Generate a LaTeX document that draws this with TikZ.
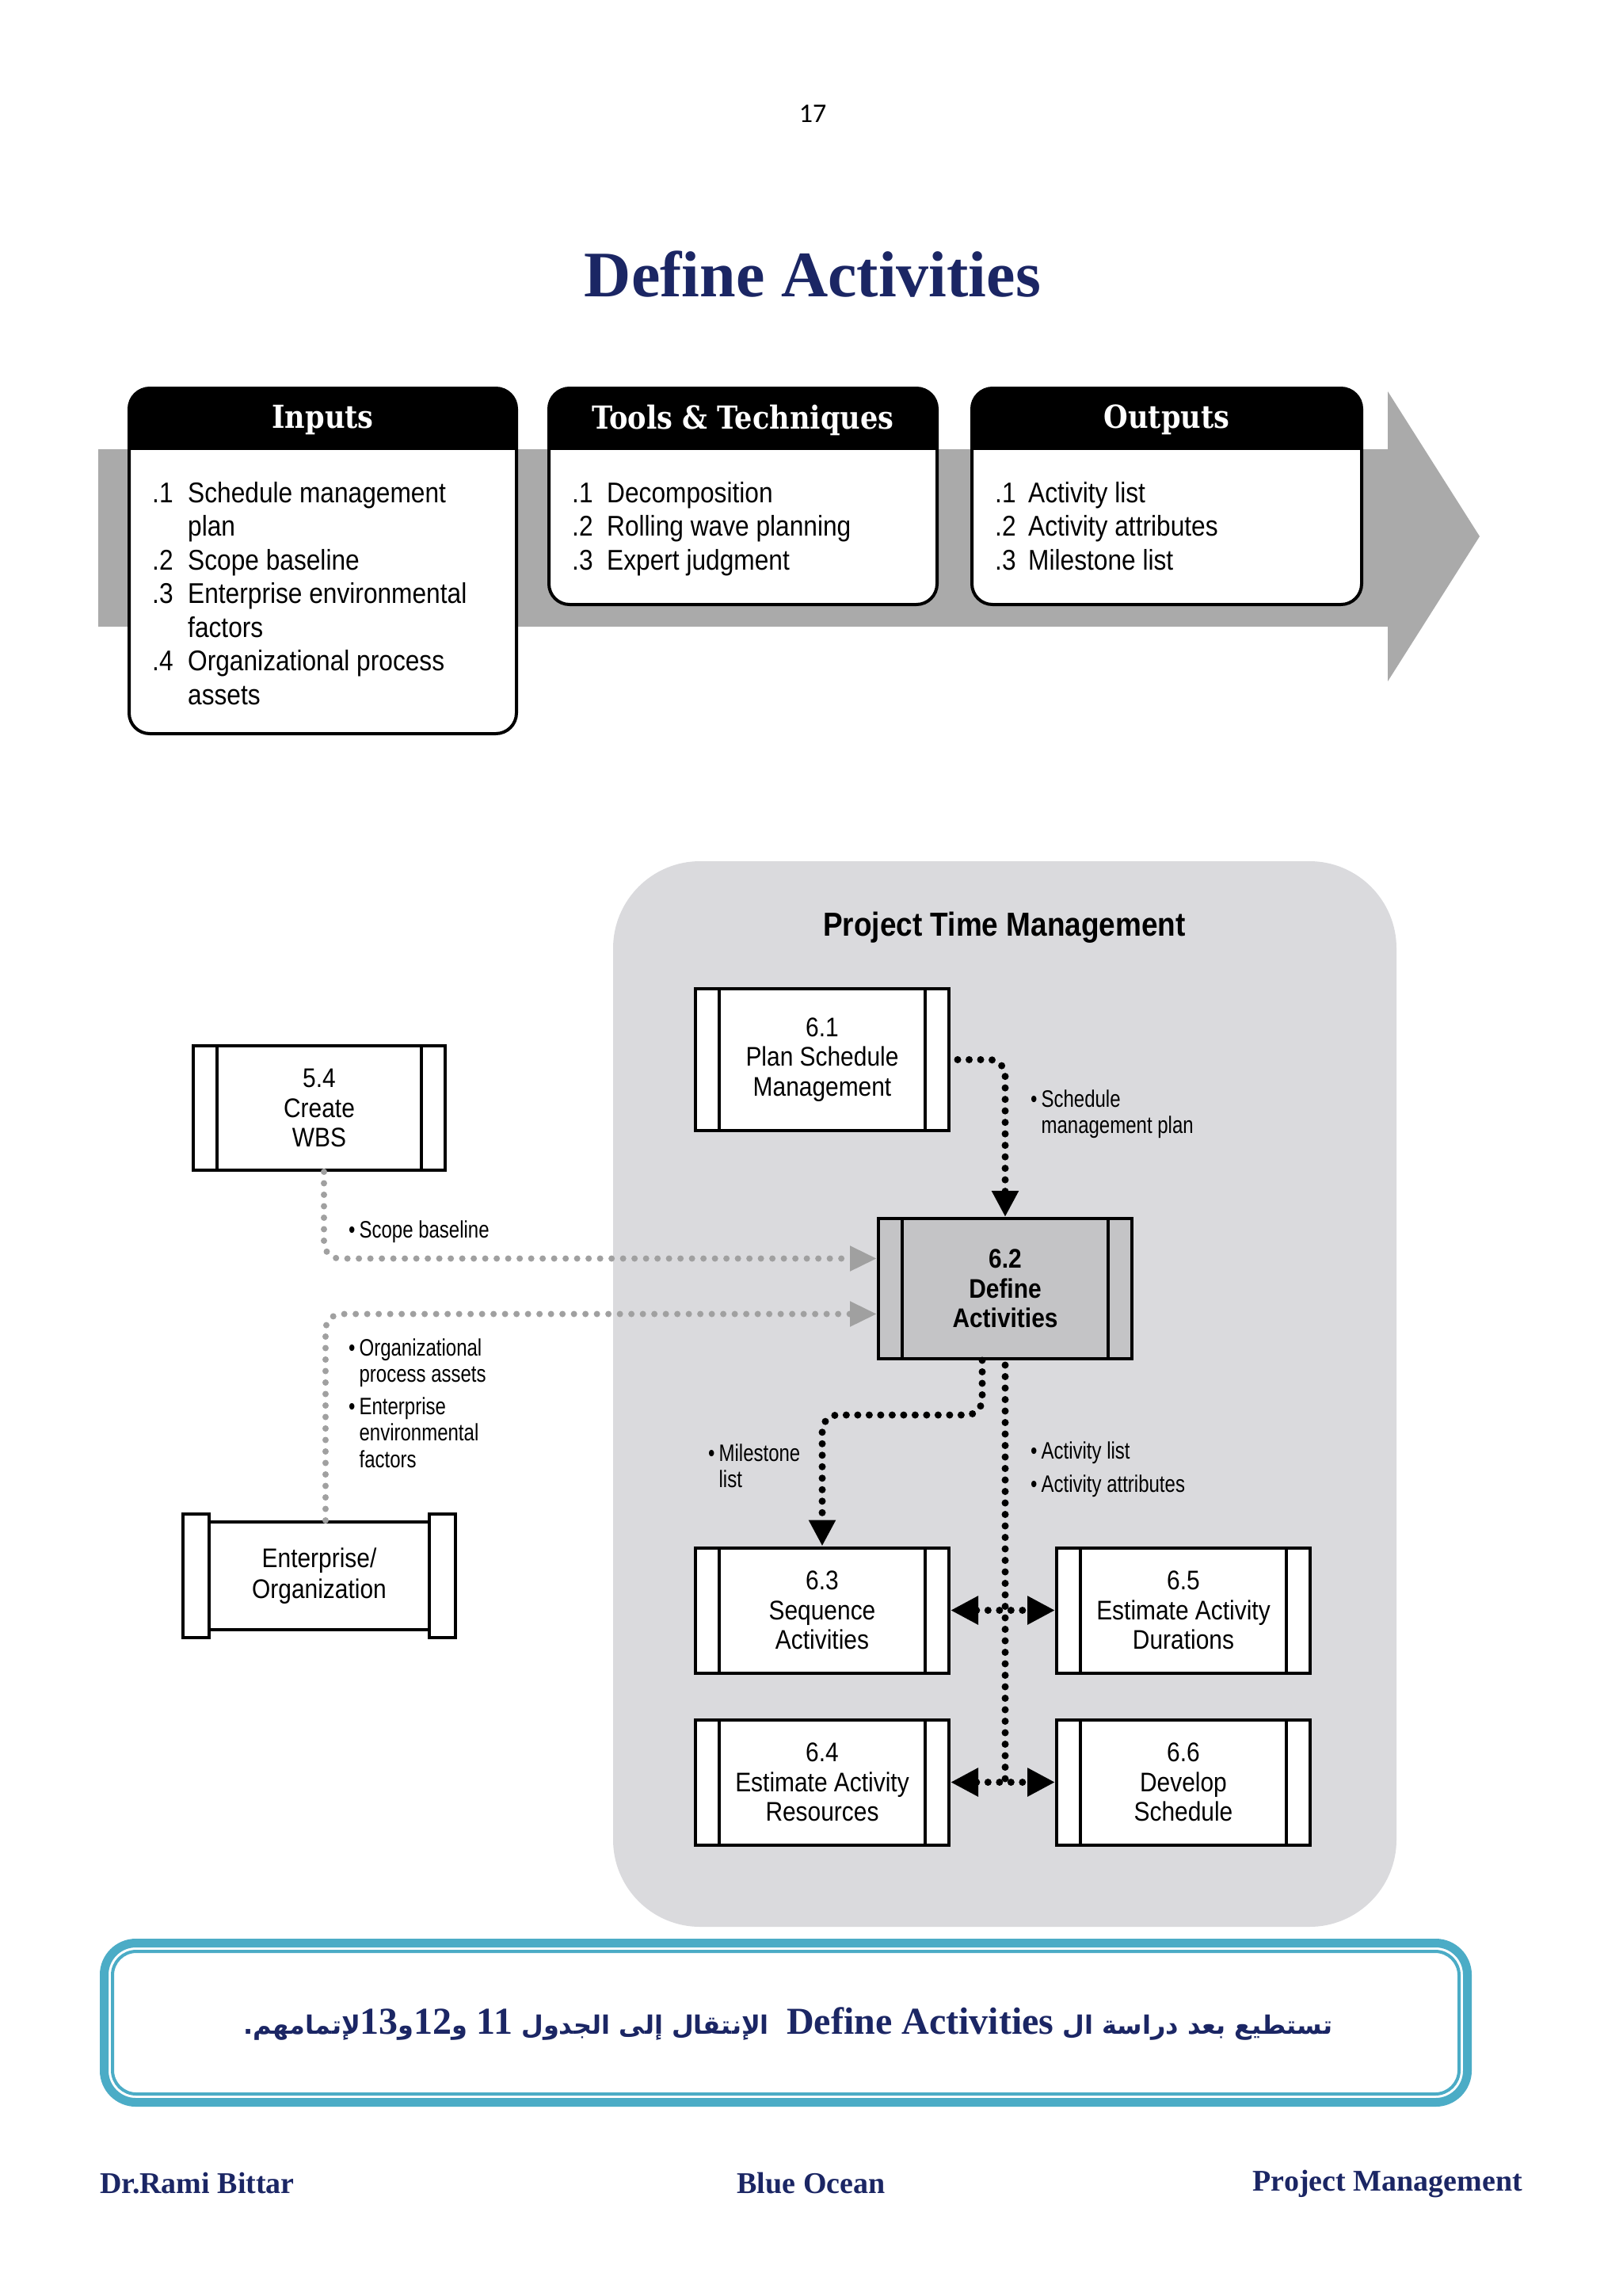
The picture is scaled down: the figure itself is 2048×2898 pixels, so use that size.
\documentclass[tikz,border=0pt]{standalone}
\usepackage{fontspec}
\setmainfont{Liberation Serif}
\newfontfamily\condfont[FakeStretch=0.88]{Liberation Sans}
\newfontfamily\lblfont[FakeStretch=0.8]{Liberation Sans}
\newfontfamily\slabfont[FakeStretch=0.88]{DejaVu Serif}
\newfontfamily\arabicfont[Script=Arabic]{DejaVu Sans}
\newfontfamily\pnfont{Carlito}
\TeXXeTstate=1
\usetikzlibrary{arrows.meta,calc}
\definecolor{navy}{RGB}{27,38,100}
\definecolor{teal5}{RGB}{75,172,198}
\definecolor{band}{RGB}{170,170,170}
\definecolor{ptm}{RGB}{218,218,221}
\definecolor{dgray}{RGB}{160,160,160}
\definecolor{procgray}{RGB}{196,196,198}
\newcommand\blab[1]{\textbullet\hspace{5pt}\begin{tabular}[t]{@{}l@{}}#1\end{tabular}}
\newcommand\iobox[6]{%
  \fill[white,rounded corners=26] (#1,490) rectangle (#2,#3);
  \begin{scope}
    \clip (#1-5,480) rectangle (#2+5,567);
    \fill[black,rounded corners=26] (#1,490) rectangle (#2,#3);
  \end{scope}
  \draw[line width=4,rounded corners=26] (#1,490) rectangle (#2,#3);
  \node[hdr] (#4) at ({(#1+#2)/2},530) {#5};
  \node[iotext] (#4b) at (#1+29,634) {#6};
}
\begin{document}
\begin{tikzpicture}[x=1pt,y=-1pt,
  hdr/.style={text=white,font=\slabfont\bfseries\fontsize{40}{44}\selectfont,inner sep=0},
  iotext/.style={anchor=base west,inner sep=0,font=\condfont\fontsize{36}{42.5}\selectfont},
  proc/.style={draw,line width=4,fill=white,minimum width=320,minimum height=158,inner sep=0,align=center,
    font=\condfont\fontsize{34}{37.5}\selectfont,
    path picture={\draw[line width=3.5] ([xshift=30pt]path picture bounding box.north west) -- ([xshift=30pt]path picture bounding box.south west);
                  \draw[line width=3.5] ([xshift=-30pt]path picture bounding box.north east) -- ([xshift=-30pt]path picture bounding box.south east);}},
  lbl/.style={anchor=base west,inner sep=0,font=\lblfont\fontsize{30}{33.5}\selectfont},
  bdot/.style={draw=black,line width=9,dash pattern=on 0pt off 14.5pt,line cap=round},
  gdot/.style={draw=dgray,line width=8,dash pattern=on 0pt off 14.5pt,line cap=round},
  btip/.style={-{Triangle[length=33pt,width=32pt]}},
  dtip/.style={{Triangle[length=35pt,width=34pt]}-{Triangle[length=35pt,width=34pt]}},
  foot/.style={inner sep=0,text=navy,font=\bfseries\fontsize{38}{44}\selectfont}
]
\useasboundingbox (0,0) rectangle (2048,2898);
\fill[white] (0,0) rectangle (2048,2898);

% page number and title
\node[font=\pnfont\fontsize{34}{40}\selectfont] (pg) at (1026,144) {17};
\node[font=\bfseries\fontsize{82}{90}\selectfont,text=navy] (title) at (1026,346) {Define Activities};

% ITTO band
\fill[band] (124,567) rectangle (1753,791);
\fill[band] (1752,494) -- (1868,677) -- (1752,860) -- cycle;

\iobox{163}{652}{926}{inp}{Inputs}{\begin{tabular}[t]{@{}p{45pt}@{}l@{}}.1&Schedule management\\&plan\\.2&Scope baseline\\.3&Enterprise environmental\\&factors\\.4&Organizational process\\&assets\end{tabular}}
\iobox{693}{1183}{763}{tt}{Tools \& Techniques}{\begin{tabular}[t]{@{}p{44pt}@{}l@{}}.1&Decomposition\\.2&Rolling wave planning\\.3&Expert judgment\end{tabular}}
\iobox{1227}{1719}{763}{outp}{Outputs}{\begin{tabular}[t]{@{}p{42pt}@{}l@{}}.1&Activity list\\.2&Activity attributes\\.3&Milestone list\end{tabular}}

% Project Time Management area
\fill[ptm,rounded corners=110] (774,1087) rectangle (1763,2432);
\node[font=\condfont\bfseries\fontsize{42}{46}\selectfont] (ptmt) at (1268,1171) {Project Time Management};

\node[proc,minimum height=179] (p61) at (1038,1337.5) {6.1\\Plan Schedule\\Management};
\node[proc,minimum height=157,minimum width=318] (p54) at (403,1398.5) {5.4\\Create\\WBS};
\node[proc,minimum height=177,fill=procgray,font=\condfont\bfseries\fontsize{34}{37.5}\selectfont] (p62) at (1269,1626.5) {6.2\\Define\\Activities};
\node[proc] (p63) at (1038,2032.5) {6.3\\Sequence\\Activities};
\node[proc] (p65) at (1494,2032.5) {6.5\\Estimate Activity\\Durations};
\node[proc] (p64) at (1038,2249.5) {6.4\\Estimate Activity\\Resources};
\node[proc] (p66) at (1494,2249.5) {6.6\\Develop\\Schedule};

% Enterprise / Organization
\node[draw,line width=4,fill=white,minimum width=278,minimum height=136,align=center,inner sep=0,
  font=\condfont\fontsize{34}{39}\selectfont] (ent) at (403,1989) {Enterprise/\\Organization};
\node[draw,line width=3.5,fill=white,minimum width=33,minimum height=156,inner sep=0] (entL) at (247.5,1989) {};
\node[draw,line width=3.5,fill=white,minimum width=33,minimum height=156,inner sep=0] (entR) at (558.5,1989) {};

% connectors
\draw[bdot,rounded corners=20,btip] ([xshift=9pt]p61.east) -| (p62.north);
\draw[gdot,rounded corners=20,-{Triangle[length=34pt,width=30pt]}] ([xshift=6pt]p54.south) |- ([yshift=38pt]p62.west);
\draw[gdot,rounded corners=20,-{Triangle[length=34pt,width=30pt]}] ([xshift=8pt]ent.north) |- ([yshift=-32pt]p62.west);
\coordinate (m1) at (1240,1786);
\draw[bdot,rounded corners=20,btip] ([xshift=-29pt]p62.south) -- (m1) -| (p63.north);
\draw[bdot] ([yshift=-6pt]p62.south) -- (p62.south |- p64.east);
\draw[bdot,dtip] (p63.east) -- (p65.west);
\draw[bdot,dtip] (p64.east) -- (p66.west);

% labels
\node[lbl] (l1) at (1301,1397) {\blab{Schedule\\management plan}};
\node[lbl] (l2) at (440,1562) {\blab{Scope baseline}};
\node[lbl] (l3) at (440,1711) {\blab{Organizational\\process assets}};
\node[lbl] (l4) at (440,1785) {\blab{Enterprise\\environmental\\factors}};
\node[lbl] (l5) at (894,1844) {\blab{Milestone\\list}};
\node[lbl] (l6) at (1301,1841) {\blab{Activity list}};
\node[lbl] (l7) at (1301,1883) {\blab{Activity attributes}};

% message box
\draw[teal5,line width=11,rounded corners=40] (131.5,2452.5) rectangle (1852.5,2653.5);
\draw[teal5,line width=4,rounded corners=30] (142,2463) rectangle (1842,2643);
\node[text=navy,inner sep=0,font=\arabicfont\bfseries\fontsize{32}{48}\selectfont] (msg) at (995,2554)
 {\beginR تستطيع بعد دراسة ال {\rmfamily\fontsize{48}{52}\selectfont\beginL Define Activities\endL}{}\ \ الإنتقال إلى الجدول {\rmfamily\fontsize{48}{52}\selectfont\beginL 11\endL}{} و{\rmfamily\fontsize{48}{52}\selectfont\beginL 12\endL}{}و{\rmfamily\fontsize{48}{52}\selectfont\beginL 13\endL}{}لإتمامهم.\endR};

% footer
\node[foot,anchor=west] (f1) at (126,2756) {Dr.Rami Bittar};
\node[foot] (f2) at (1024,2756) {Blue Ocean};
\node[foot,anchor=east] (f3) at (1922,2756) {Project Management};
\end{tikzpicture}
\end{document}
